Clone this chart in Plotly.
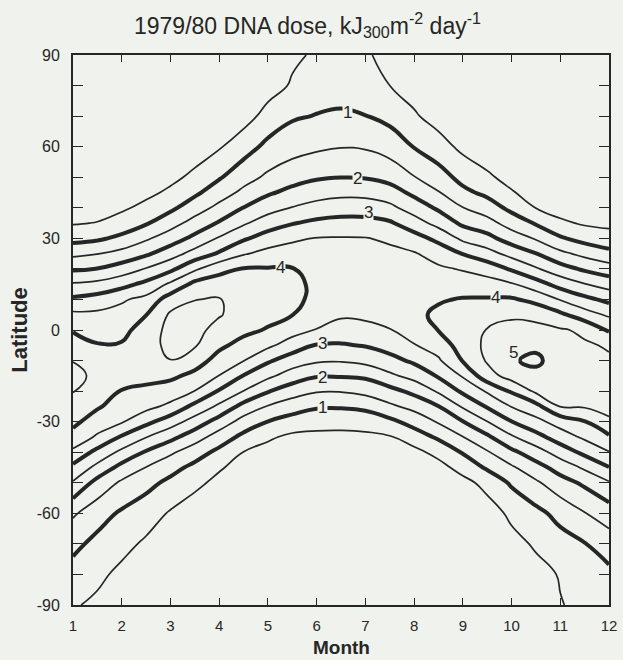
import numpy as np
import plotly.graph_objects as go

# Month axis (half-month sampling) and latitude rows, north to south
months = [1, 1.5, 2, 2.5, 3, 3.5, 4, 4.5, 5, 5.5, 6, 6.5, 7, 7.5, 8, 8.5, 9, 9.5, 10, 10.5, 11, 11.5, 12]
latitudes = [90, 80, 70, 60, 50, 45, 40, 35, 30, 25, 20, 15, 10, 5, 0,
             -5, -10, -15, -20, -25, -30, -35, -40, -45, -50, -60, -70, -80, -90]

# Daily DNA-weighted dose (kJ300 m-2 day-1), one column per half month, north to south
dose_m01_0 = [0, 0, 0, 0, 0.03, 0.1, 0.25, 0.46, 0.83, 1.38, 1.94, 2.55, 3.09, 3.61, 3.96, 4.23, 4.49, 4.6, 4.52, 4.32, 4.12, 3.83, 3.39, 2.88, 2.45, 1.57, 1.13, 0.81, 0.55]
dose_m01_5 = [0, 0, 0, 0, 0.05, 0.12, 0.28, 0.52, 0.92, 1.48, 2.01, 2.63, 3.2, 3.61, 3.82, 4.03, 4.25, 4.42, 4.3, 4.06, 3.76, 3.43, 2.85, 2.36, 1.83, 1.21, 0.86, 0.61, 0.4]
dose_m02_0 = [0, 0, 0, 0.02, 0.12, 0.25, 0.42, 0.71, 1.11, 1.66, 2.23, 2.83, 3.44, 3.67, 3.87, 4.04, 4.15, 4.15, 3.98, 3.77, 3.55, 2.95, 2.38, 1.84, 1.42, 0.93, 0.65, 0.38, 0.25]
dose_m02_5 = [0, 0, 0.02, 0.08, 0.22, 0.38, 0.63, 0.95, 1.43, 1.92, 2.53, 3.13, 3.64, 3.99, 4.2, 4.3, 4.3, 4.15, 3.89, 3.64, 3.14, 2.52, 1.95, 1.49, 1.15, 0.73, 0.42, 0.28, 0.15]
dose_m03_0 = [0.02, 0.05, 0.1, 0.2, 0.38, 0.59, 0.89, 1.31, 1.75, 2.27, 2.88, 3.59, 4.25, 4.57, 4.66, 4.63, 4.49, 4.1, 3.76, 3.39, 2.73, 2.15, 1.58, 1.17, 0.88, 0.45, 0.3, 0.15, 0.05]
dose_m03_5 = [0.05, 0.08, 0.12, 0.25, 0.61, 0.9, 1.27, 1.68, 2.13, 2.69, 3.41, 4.14, 4.49, 4.63, 4.66, 4.55, 4.22, 3.87, 3.49, 2.86, 2.29, 1.72, 1.23, 0.87, 0.61, 0.25, 0.12, 0.05, 0]
dose_m04_0 = [0.1, 0.18, 0.3, 0.45, 0.95, 1.27, 1.63, 2.05, 2.55, 3.06, 3.86, 4.22, 4.53, 4.54, 4.32, 4.1, 3.82, 3.49, 2.95, 2.4, 1.79, 1.28, 0.87, 0.55, 0.38, 0.18, 0.06, 0, 0]
dose_m04_5 = [0.15, 0.2, 0.3, 0.78, 1.31, 1.61, 2.01, 2.43, 2.93, 3.45, 4.03, 4.2, 4.3, 4.28, 4.12, 3.84, 3.52, 2.98, 2.49, 1.83, 1.31, 0.87, 0.49, 0.33, 0.2, 0.06, 0, 0, 0]
dose_m05_0 = [0.25, 0.3, 0.67, 1.13, 1.59, 1.93, 2.31, 2.75, 3.22, 3.66, 4.03, 4.2, 4.25, 4.15, 3.96, 3.6, 3.07, 2.61, 2.04, 1.47, 0.99, 0.57, 0.35, 0.22, 0.13, 0.04, 0, 0, 0]
dose_m05_5 = [0.42, 0.55, 0.94, 1.3, 1.8, 2.14, 2.52, 2.97, 3.41, 3.73, 4.02, 4.12, 4.15, 4.01, 3.69, 3.27, 2.75, 2.27, 1.73, 1.23, 0.79, 0.4, 0.26, 0.16, 0.1, 0.02, 0, 0, 0]
dose_m06_0 = [0.56, 0.76, 1.02, 1.41, 1.94, 2.29, 2.68, 3.11, 3.52, 3.72, 3.85, 3.9, 3.85, 3.7, 3.48, 2.97, 2.57, 2.04, 1.54, 1.06, 0.68, 0.38, 0.22, 0.12, 0.06, 0, 0, 0, 0]
dose_m06_5 = [0.66, 0.82, 1.06, 1.48, 1.99, 2.37, 2.76, 3.17, 3.53, 3.68, 3.78, 3.8, 3.72, 3.57, 3.29, 2.96, 2.54, 2.04, 1.53, 1.05, 0.66, 0.38, 0.22, 0.12, 0.06, 0, 0, 0, 0]
dose_m07_0 = [0.54, 0.75, 1.01, 1.45, 1.97, 2.35, 2.76, 3.16, 3.52, 3.65, 3.72, 3.75, 3.7, 3.6, 3.35, 3.03, 2.65, 2.08, 1.65, 1.12, 0.7, 0.4, 0.24, 0.14, 0.08, 0.01, 0, 0, 0]
dose_m07_5 = [0.4, 0.5, 0.86, 1.28, 1.84, 2.21, 2.62, 3.06, 3.43, 3.6, 3.7, 3.75, 3.72, 3.62, 3.48, 3.2, 2.84, 2.4, 1.84, 1.41, 0.88, 0.46, 0.3, 0.18, 0.1, 0.02, 0, 0, 0]
dose_m08_0 = [0.22, 0.3, 0.56, 0.98, 1.52, 1.89, 2.27, 2.72, 3.19, 3.54, 3.72, 3.82, 3.88, 3.9, 3.8, 3.47, 3.09, 2.67, 2.13, 1.65, 1.19, 0.75, 0.36, 0.25, 0.15, 0.05, 0.01, 0, 0]
dose_m08_5 = [0.12, 0.2, 0.3, 0.7, 1.22, 1.53, 1.92, 2.33, 2.87, 3.29, 3.58, 3.77, 3.96, 4.08, 4.01, 3.73, 3.43, 3.05, 2.57, 1.99, 1.55, 1.08, 0.65, 0.33, 0.24, 0.1, 0.03, 0, 0]
dose_m09_0 = [0.05, 0.12, 0.22, 0.38, 0.84, 1.12, 1.51, 1.9, 2.39, 2.98, 3.46, 3.76, 4.03, 4.2, 4.3, 4.22, 4.03, 3.55, 3.09, 2.56, 1.98, 1.49, 1.04, 0.68, 0.35, 0.2, 0.08, 0.02, 0]
dose_m09_5 = [0.02, 0.06, 0.14, 0.28, 0.56, 0.88, 1.25, 1.68, 2.15, 2.69, 3.28, 3.71, 4.04, 4.3, 4.52, 4.6, 4.55, 4.3, 3.56, 3.05, 2.49, 1.91, 1.45, 1.07, 0.65, 0.28, 0.15, 0.06, 0.02]
dose_m10_0 = [0, 0.02, 0.06, 0.18, 0.38, 0.53, 0.87, 1.28, 1.77, 2.33, 2.94, 3.55, 4.06, 4.41, 4.68, 4.85, 4.95, 4.7, 4.06, 3.52, 2.99, 2.44, 1.88, 1.43, 1.07, 0.6, 0.35, 0.2, 0.1]
dose_m10_5 = [0, 0, 0.03, 0.1, 0.24, 0.35, 0.49, 0.95, 1.45, 2.01, 2.56, 3.21, 3.86, 4.35, 4.65, 4.9, 5.1, 4.85, 4.6, 3.84, 3.35, 2.83, 2.28, 1.81, 1.42, 0.86, 0.56, 0.35, 0.3]
dose_m11_0 = [0, 0, 0, 0.04, 0.12, 0.2, 0.3, 0.59, 1.06, 1.62, 2.2, 2.81, 3.47, 4.1, 4.55, 4.68, 4.75, 4.7, 4.62, 4.52, 3.71, 3.25, 2.72, 2.2, 1.8, 1.16, 0.8, 0.53, 0.48]
dose_m11_5 = [0, 0, 0, 0.02, 0.08, 0.16, 0.28, 0.44, 0.82, 1.36, 1.92, 2.52, 3.13, 3.72, 4.42, 4.55, 4.63, 4.65, 4.6, 4.55, 3.98, 3.59, 3.12, 2.58, 2.09, 1.48, 0.98, 0.8, 0.6]
dose_m12_0 = [0, 0, 0, 0, 0.07, 0.14, 0.25, 0.4, 0.67, 1.15, 1.72, 2.29, 2.87, 3.42, 3.94, 4.46, 4.55, 4.6, 4.58, 4.54, 4.48, 3.92, 3.48, 2.98, 2.45, 1.75, 1.25, 0.88, 0.65]

columns = [dose_m01_0, dose_m01_5, dose_m02_0, dose_m02_5, dose_m03_0, dose_m03_5,
           dose_m04_0, dose_m04_5, dose_m05_0, dose_m05_5, dose_m06_0, dose_m06_5,
           dose_m07_0, dose_m07_5, dose_m08_0, dose_m08_5, dose_m09_0, dose_m09_5,
           dose_m10_0, dose_m10_5, dose_m11_0, dose_m11_5, dose_m12_0]

# Contour labels: level text and where it sits on its line
label_text = ["1", "2", "3", "4", "3", "2", "1", "4", "5"]
label_month = [6.63, 6.83, 7.06, 5.25, 6.13, 6.11, 6.13, 9.67, 10.04]
label_lat = [71.3, 49.7, 38.3, 20.6, -4.3, -15.4, -25.5, 10.8, -7.2]

month_ticks = list(range(1, 13))
lat_ticks = list(range(-90, 91, 10))
lat_tick_text = [str(v) if v % 30 == 0 else "" for v in lat_ticks]

# rows ordered south to north for the contour trace
z = np.array(columns).T[::-1]
lat_rows = latitudes[::-1]

INK = "#262626"
PAPER = "#f0f2ed"
FONT = "Arial, Liberation Sans, sans-serif"

fig = go.Figure()
# half-unit levels as thin lines
fig.add_trace(go.Contour(
    x=months, y=lat_rows, z=z,
    contours=dict(start=0.5, end=4.5, size=1, coloring="none", showlabels=False),
    line=dict(color=INK, width=1.7, smoothing=1.3),
    showscale=False, hoverinfo="skip",
))
# whole-unit levels as thick lines
fig.add_trace(go.Contour(
    x=months, y=lat_rows, z=z,
    contours=dict(start=1, end=5, size=1, coloring="none", showlabels=False),
    line=dict(color=INK, width=4, smoothing=1.3),
    showscale=False, hoverinfo="skip",
))

for t, mx, ly in zip(label_text, label_month, label_lat):
    fig.add_annotation(x=mx, y=ly, xref="x", yref="y", text=t, showarrow=False,
                       font=dict(family=FONT, size=17, color=INK),
                       bgcolor=PAPER, borderpad=0)

# chart title
fig.add_annotation(
    x=0.437, y=1.055, xref="paper", yref="paper",
    text="1979/80 DNA dose, kJ<sub>300</sub>m<sup>-2</sup> day<sup>-1</sup>",
    showarrow=False, xanchor="center", yanchor="middle",
    font=dict(family=FONT, size=23, color=INK),
)
# x-axis title, set below the month labels
fig.add_annotation(
    x=0.5, y=-0.1, xref="paper", yref="paper", text="<b>Month</b>",
    showarrow=False, xanchor="center", yanchor="bottom",
    font=dict(family=FONT, size=19, color=INK),
)

axis_common = dict(
    showgrid=False, zeroline=False, showline=True, linewidth=2, linecolor=INK,
    mirror="ticks", ticks="inside", tickcolor=INK, tickwidth=1.4,
    automargin=False,
)

fig.update_layout(
    width=623, height=660,
    margin=dict(l=73, r=14, t=55, b=55),
    paper_bgcolor=PAPER, plot_bgcolor=PAPER,
    showlegend=False,
    xaxis=dict(range=[1, 12], tickvals=month_ticks, ticklen=7, ticklabelstandoff=6,
               tickfont=dict(family=FONT, size=15, color=INK), **axis_common),
    yaxis=dict(range=[-90, 90], tickvals=lat_ticks, ticktext=lat_tick_text, ticklen=10,
               ticklabelstandoff=8, tickfont=dict(family=FONT, size=16, color=INK),
               title=dict(text="<b>Latitude</b>", font=dict(family=FONT, size=22, color=INK), standoff=3),
               **axis_common),
)

fig.write_html("out.html")
